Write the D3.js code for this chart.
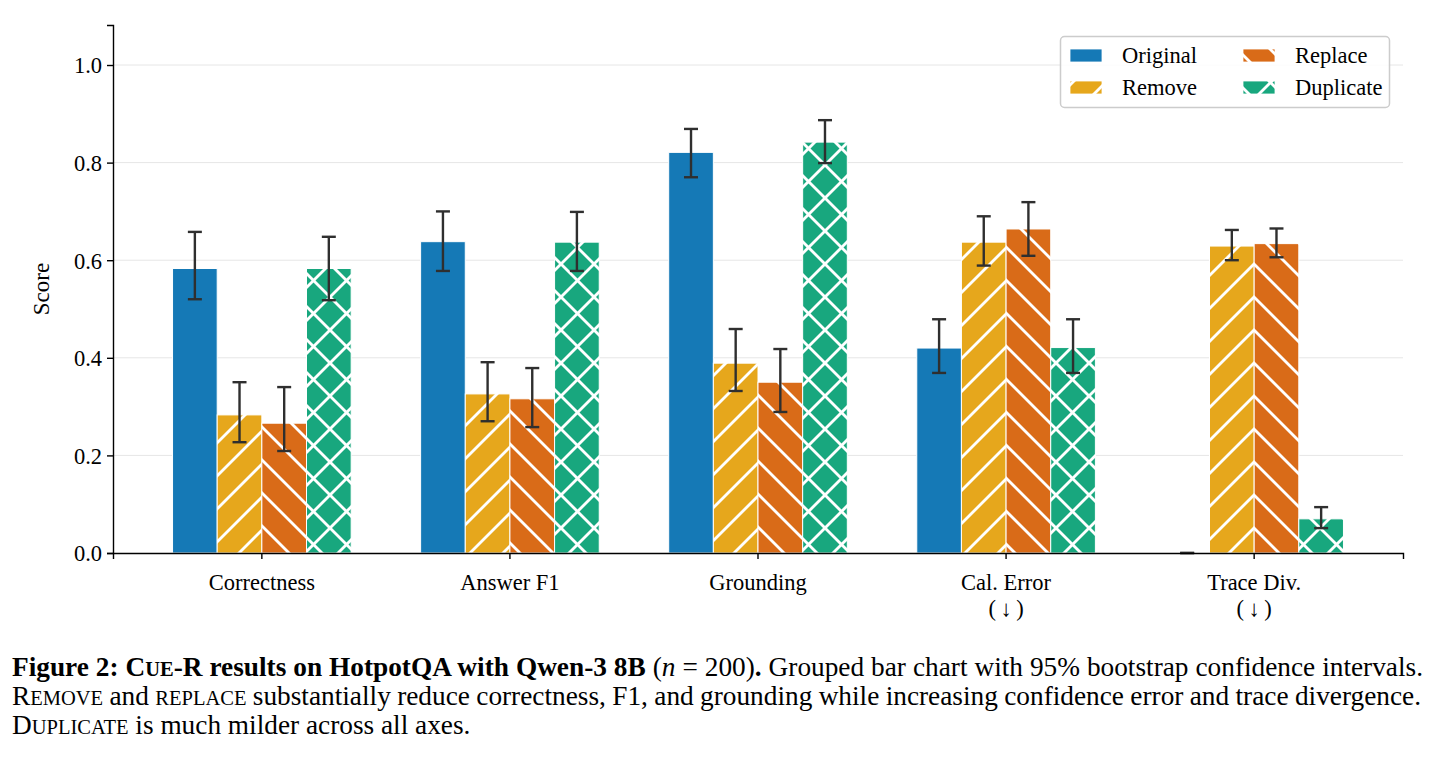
<!DOCTYPE html>
<html>
<head>
<meta charset="utf-8">
<script src="https://cdn.jsdelivr.net/npm/d3@7"></script>
<style>
  html, body { margin: 0; padding: 0; background: #fff; }
  svg { display: block; }
  text { font-family: "Liberation Serif", "Times New Roman", serif; fill: #000; }
</style>
</head>
<body>
<svg id="chart" width="1439" height="758"></svg>
<script>
// ---------------- data ----------------
const categories = ["Correctness", "Answer F1", "Grounding", "Cal. Error", "Trace Div."];
const categoryNotes = ["", "", "", "(\u2009\u2193\u2009)", "(\u2009\u2193\u2009)"];
const seriesNames = ["Original", "Remove", "Replace", "Duplicate"];

const original    = [0.583, 0.638, 0.821, 0.420, 0.000];
const originalLo  = [0.520, 0.578, 0.770, 0.369, 0.000];
const originalHi  = [0.658, 0.700, 0.869, 0.479, 0.000];

const remove      = [0.283, 0.326, 0.389, 0.637, 0.629];
const removeLo    = [0.227, 0.270, 0.332, 0.589, 0.600];
const removeHi    = [0.350, 0.391, 0.459, 0.690, 0.662];

const replace     = [0.266, 0.316, 0.350, 0.664, 0.634];
const replaceLo   = [0.209, 0.258, 0.289, 0.609, 0.606];
const replaceHi   = [0.340, 0.379, 0.418, 0.719, 0.665];

const duplicate   = [0.583, 0.637, 0.842, 0.421, 0.070];
const duplicateLo = [0.518, 0.578, 0.799, 0.369, 0.051];
const duplicateHi = [0.648, 0.699, 0.887, 0.479, 0.094];

const yTicks = [0.0, 0.2, 0.4, 0.6, 0.8, 1.0];
const yLabel = "Score";

// ---------------- styles ----------------
const colors = ["#1579b6", "#e6a71c", "#d96b18", "#18a77e"];
const hatches = ["none", "fwd", "back", "cross"];

const seriesValues = [original, remove, replace, duplicate];
const seriesLo = [originalLo, removeLo, replaceLo, duplicateLo];
const seriesHi = [originalHi, removeHi, replaceHi, duplicateHi];

const svg = d3.select("#chart");
const M = { left: 113, right: 1403, top: 25, bottom: 553 };
const FS = "22.5px";

// hatch patterns
const defs = svg.append("defs");
const P = 33;
function makePattern(id, color, kind) {
  const p = defs.append("pattern").attr("id", id)
    .attr("patternUnits", "userSpaceOnUse").attr("width", P).attr("height", P);
  p.append("rect").attr("width", P).attr("height", P).attr("fill", color);
  const lw = 2.8;
  const add = (x1, y1, x2, y2) => p.append("line").attr("x1", x1).attr("y1", y1)
      .attr("x2", x2).attr("y2", y2).attr("stroke", "#fff").attr("stroke-width", lw);
  if (kind === "fwd" || kind === "cross") {
    add(-P, P, P, -P); add(0, P, P, 0); add(0, 2 * P, 2 * P, 0);
  }
  if (kind === "back" || kind === "cross") {
    add(-P, 0, P, 2 * P); add(0, 0, P, P); add(0, -P, 2 * P, P);
  }
}
seriesNames.forEach((s, i) => {
  if (hatches[i] !== "none") makePattern("hatch" + i, colors[i], hatches[i]);
});
const fillFor = i => hatches[i] === "none" ? colors[i] : `url(#hatch${i})`;

// scales
const x = d3.scaleBand().domain(categories).range([M.left, M.right])
  .paddingInner(0).paddingOuter(0.1);
const step = x.bandwidth();
const xs = d3.scaleBand().domain(seriesNames).range([-0.36 * step, 0.36 * step]).padding(0);
const y = d3.scaleLinear().domain([0, 1.082]).range([M.bottom, M.top]);

// grid
svg.append("g").selectAll("line").data(yTicks.filter(t => t > 0)).join("line")
  .attr("x1", M.left).attr("x2", M.right)
  .attr("y1", d => y(d)).attr("y2", d => y(d))
  .attr("stroke", "#e6e6e6").attr("stroke-width", 1);

// bars
const barData = [];
categories.forEach((c, ci) => {
  seriesNames.forEach((s, si) => {
    barData.push({ c, s, si, v: seriesValues[si][ci], lo: seriesLo[si][ci], hi: seriesHi[si][ci] });
  });
});
const cx = d => x(d.c) + step / 2 + xs(d.s) + xs.bandwidth() / 2;

svg.append("g").selectAll("rect").data(barData).join("rect")
  .attr("x", d => x(d.c) + step / 2 + xs(d.s))
  .attr("y", d => y(d.v))
  .attr("width", xs.bandwidth())
  .attr("height", d => y(0) - y(d.v))
  .attr("fill", d => fillFor(d.si))
  .attr("stroke", "#fff").attr("stroke-width", 1);

// error bars
const eg = svg.append("g").attr("stroke", "#2f2f2f").attr("stroke-width", 2.4);
barData.forEach(d => {
  const c = cx(d);
  eg.append("line").attr("x1", c).attr("x2", c).attr("y1", y(d.lo)).attr("y2", y(d.hi));
  eg.append("line").attr("x1", c - 7).attr("x2", c + 7).attr("y1", y(d.lo)).attr("y2", y(d.lo));
  eg.append("line").attr("x1", c - 7).attr("x2", c + 7).attr("y1", y(d.hi)).attr("y2", y(d.hi));
});

// axes
const yAxis = d3.axisLeft(y).tickValues(yTicks).tickFormat(d3.format(".1f")).tickSize(6).tickPadding(5);
const gy = svg.append("g").attr("transform", `translate(${M.left},0)`).call(yAxis);
gy.select(".domain").attr("stroke", "#000").attr("stroke-width", 1.4);
gy.selectAll(".tick line").attr("stroke", "#000").attr("stroke-width", 1.4);
gy.selectAll(".tick text").style("font-family", "Liberation Serif").style("font-size", FS).attr("dy", "0.35em");

const xAxis = d3.axisBottom(x).tickSize(6).tickPadding(15);
const gx = svg.append("g").attr("transform", `translate(0,${M.bottom})`).call(xAxis);
gx.select(".domain").attr("stroke", "#000").attr("stroke-width", 1.4);
gx.selectAll(".tick line").attr("stroke", "#000").attr("stroke-width", 1.4);
gx.selectAll(".tick text").style("font-family", "Liberation Serif").style("font-size", FS)
  .attr("dy", "0.71em");
gx.selectAll(".tick").each(function (d, i) {
  if (categoryNotes[i]) {
    d3.select(this).append("text").attr("y", 63)
      .attr("fill", "#000").attr("text-anchor", "middle")
      .style("font-family", "Liberation Serif").style("font-size", FS)
      .text(categoryNotes[i]);
  }
});

// y label
svg.append("text").attr("transform", `translate(49,${(M.top + M.bottom) / 2}) rotate(-90)`)
  .attr("text-anchor", "middle").style("font-size", "23px").text(yLabel);

// legend
const lg = svg.append("g");
lg.append("rect").attr("x", 1060.5).attr("y", 36.5).attr("width", 329).attr("height", 71)
  .attr("rx", 4).attr("fill", "#fff").attr("fill-opacity", 0.85)
  .attr("stroke", "#cccccc").attr("stroke-width", 1.5);
const legPos = [[1070, 49], [1070, 81], [1243, 49], [1243, 81]];
const legOrder = [0, 1, 2, 3];
legOrder.forEach((si, k) => {
  const [lx, ly] = legPos[k];
  lg.append("rect").attr("x", lx).attr("y", ly).attr("width", 32).attr("height", 13)
    .attr("fill", fillFor(si)).attr("stroke", "#fff").attr("stroke-width", 0.8);
  lg.append("text").attr("x", lx + 52).attr("y", ly + 14).style("font-size", FS).text(seriesNames[si]);
});

// caption
const cap = svg.append("g").style("font-size", "27.3px");
const SC = "20.5px";
function line(yy, parts, target) {
  const t = cap.append("text").attr("x", 12).attr("y", yy).attr("xml:space", "preserve");
  parts.forEach(p => {
    const ts = t.append("tspan").text(p.t);
    if (p.b) ts.style("font-weight", "bold");
    if (p.i) ts.style("font-style", "italic");
    if (p.sc) ts.style("font-size", SC);
  });
  if (target) {
    const natural = t.node().getComputedTextLength();
    const spaces = parts.map(p => p.t).join("").split(" ").length - 1;
    t.style("word-spacing", ((target - natural) / spaces) + "px");
  }
}
line(676, [
  { t: "Figure 2: C", b: 1 }, { t: "UE", b: 1, sc: 1 }, { t: "-R results on HotpotQA with Qwen-3 8B", b: 1 },
  { t: " (" }, { t: "n", i: 1 }, { t: " = 200)" }, { t: ".", b: 1 },
  { t: " Grouped bar chart with 95% bootstrap confidence intervals." }
], 1411);
line(705, [
  { t: "R" }, { t: "EMOVE", sc: 1 }, { t: " and " }, { t: "REPLACE", sc: 1 },
  { t: " substantially reduce correctness, F1, and grounding while increasing confidence error and trace divergence." }
], 1409);
line(734, [
  { t: "D" }, { t: "UPLICATE", sc: 1 }, { t: " is much milder across all axes." }
], null);
</script>
</body>
</html>
